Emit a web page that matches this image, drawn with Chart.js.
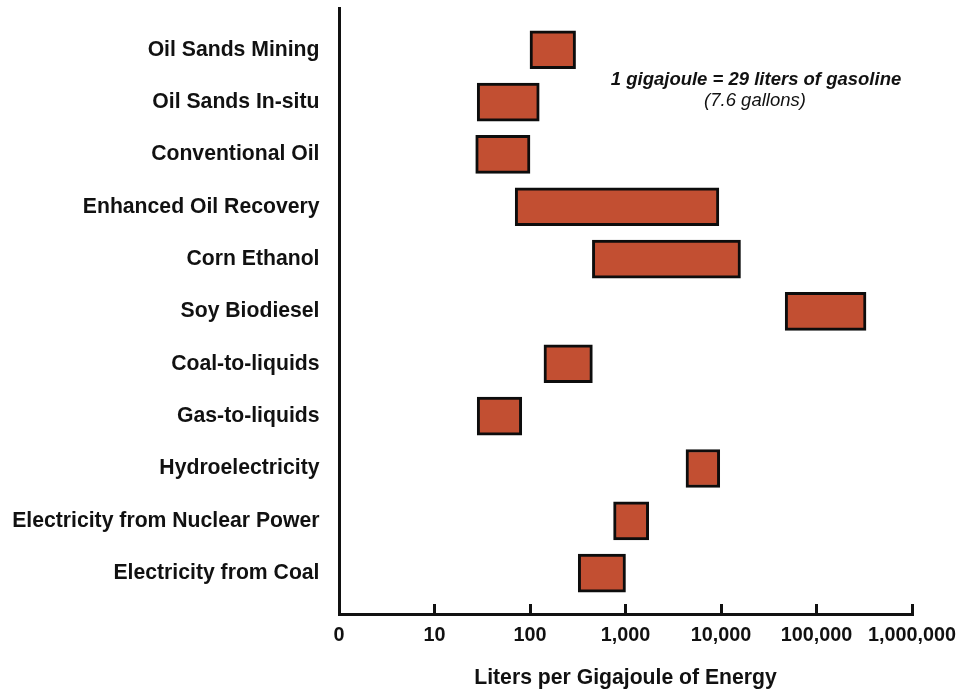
<!DOCTYPE html>
<html>
<head>
<meta charset="utf-8">
<title>Water use per gigajoule of energy</title>
<script src="https://cdn.jsdelivr.net/npm/chart.js@4.4.1/dist/chart.umd.min.js"></script>
<style>
  html, body { margin: 0; padding: 0; background: #ffffff; }
  canvas { display: block; }
</style>
</head>
<body>
<canvas id="chart" width="963" height="691"></canvas>
<script>
// Energy sources, top to bottom
const categories = [
  'Oil Sands Mining',
  'Oil Sands In-situ',
  'Conventional Oil',
  'Enhanced Oil Recovery',
  'Corn Ethanol',
  'Soy Biodiesel',
  'Coal-to-liquids',
  'Gas-to-liquids',
  'Hydroelectricity',
  'Electricity from Nuclear Power',
  'Electricity from Coal'
];

// Range of water use, liters per gigajoule (low end / high end)
const lowValues  = [100, 28, 27, 70, 450, 47000, 140, 28, 4300, 750, 320];
const highValues = [300, 125, 100, 9500, 16000, 330000, 450, 82, 9700, 1750, 1000];

// Log axis ticks and their printed labels
const tickValues = [1, 10, 100, 1000, 10000, 100000, 1000000];
const tickLabels = ['0', '10', '100', '1,000', '10,000', '100,000', '1,000,000'];

const noteLines = ['1 gigajoule = 29 liters of gasoline', '(7.6 gallons)'];
const axisTitle = 'Liters per Gigajoule of Energy';

const FONT = "'Liberation Sans', Arial, Helvetica, sans-serif";

const rangeData = categories.map((c, i) => ({ x: [lowValues[i], highValues[i]], y: i }));

const notePlugin = {
  id: 'note',
  afterDraw(chart) {
    const ctx = chart.ctx;
    ctx.save();
    ctx.fillStyle = '#111111';
    ctx.textAlign = 'center';
    ctx.textBaseline = 'middle';
    ctx.font = 'italic bold 18.5px ' + FONT;
    ctx.fillText(noteLines[0], 756, 80);
    ctx.font = 'italic 18.5px ' + FONT;
    ctx.fillText(noteLines[1], 755, 101);
    ctx.restore();
  }
};

new Chart(document.getElementById('chart'), {
  type: 'bar',
  data: {
    datasets: [{
      data: rangeData,
      backgroundColor: '#C24F32',
      borderColor: '#0d0d0d',
      borderWidth: 3,
      borderSkipped: false,
      barThickness: 38
    }]
  },
  plugins: [notePlugin],
  options: {
    indexAxis: 'y',
    responsive: false,
    animation: false,
    layout: { padding: { top: 8, right: 51, bottom: 0, left: 0 } },
    plugins: {
      legend: { display: false },
      tooltip: { enabled: false }
    },
    scales: {
      x: {
        type: 'logarithmic',
        position: 'bottom',
        min: 1,
        max: 1000000,
        afterBuildTicks(scale) {
          scale.ticks = tickValues.map(v => ({ value: v }));
        },
        afterFit(scale) {
          scale.height = 77;
          scale.paddingLeft = 0;
          scale.paddingRight = 0;
        },
        ticks: {
          autoSkip: false,
          maxRotation: 0,
          padding: 20,
          color: '#111111',
          font: { family: FONT, size: 19.8, weight: 'bold' },
          callback(value) {
            const i = tickValues.indexOf(value);
            return i >= 0 ? tickLabels[i] : '';
          }
        },
        grid: {
          drawOnChartArea: false,
          drawTicks: true,
          tickLength: -10,
          tickWidth: 3,
          tickColor: '#111111',
          color: '#111111',
          lineWidth: 3
        },
        border: { display: true, color: '#111111', width: 3 },
        title: {
          display: true,
          text: axisTitle,
          color: '#111111',
          font: { family: FONT, size: 21.2, weight: 'bold' },
          padding: { top: 0, bottom: 0 }
        }
      },
      y: {
        type: 'linear',
        reverse: true,
        offset: false,
        min: -0.797,
        max: 10.78,
        afterBuildTicks(scale) {
          scale.ticks = categories.map((c, i) => ({ value: i }));
        },
        afterFit(scale) {
          scale.width = 339;
          scale.paddingTop = 0;
          scale.paddingBottom = 0;
        },
        ticks: {
          autoSkip: false,
          padding: 19.5,
          color: '#111111',
          font: { family: FONT, size: 21.2, weight: 'bold' },
          callback(value) {
            return categories[value] !== undefined ? categories[value] : '';
          }
        },
        grid: {
          offset: false,
          drawOnChartArea: false,
          drawTicks: false,
          color: 'rgba(0,0,0,0)',
          lineWidth: 3
        },
        border: { display: true, color: '#111111', width: 3 }
      }
    }
  }
});
</script>
</body>
</html>
